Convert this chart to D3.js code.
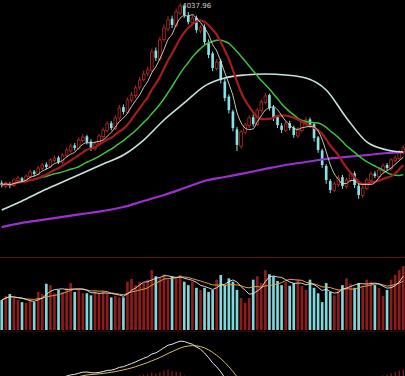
<!DOCTYPE html>
<html>
<head>
<meta charset="utf-8">
<script src="https://cdn.jsdelivr.net/npm/d3@7"></script>
<style>
html, body { margin: 0; padding: 0; background: #000; overflow: hidden; }
</style>
</head>
<body>
<svg id="chart" width="405" height="376"></svg>
<script>
// daily candles
var opens = [3080,3062,3075,3066,3092,3104,3088,3114,3140,3125,
    3158,3178,3166,3200,3215,3190,3226,3250,3280,3262,
    3305,3328,3300,3262,3290,3326,3360,3398,3370,3425,
    3484,3455,3520,3545,3590,3630,3665,3680,3785,3740,
    3845,3900,3955,3918,3985,4020,3970,3935,3960,3890,
    3910,3828,3770,3690,3730,3620,3540,3460,3365,3275,
    3350,3385,3430,3390,3465,3508,3548,3482,3430,3385,
    3360,3398,3375,3330,3358,3400,3418,3392,3322,3252,
    3170,3090,3040,3070,3110,3060,3092,3130,3065,3012,
    3050,3092,3130,3112,3145,3175,3155,3200,3210,3240];
var closes = [3068,3079,3063,3095,3106,3090,3116,3138,3127,3159,
    3175,3164,3202,3212,3191,3228,3255,3276,3266,3308,
    3324,3298,3266,3287,3330,3362,3394,3372,3426,3479,
    3458,3522,3548,3586,3628,3660,3682,3778,3746,3842,
    3906,3948,3922,3991,4023,3975,3938,3959,3895,3906,
    3831,3762,3692,3724,3628,3532,3468,3372,3282,3351,
    3388,3426,3394,3468,3511,3543,3479,3426,3388,3362,
    3394,3372,3335,3362,3404,3415,3388,3319,3255,3175,
    3095,3042,3074,3106,3063,3095,3127,3068,3015,3052,
    3095,3127,3116,3148,3170,3159,3202,3212,3244,3266];
var highs = [3092,3088,3084,3104,3118,3112,3125,3150,3148,3170,
    3186,3190,3212,3225,3224,3238,3268,3290,3292,3322,
    3340,3336,3312,3298,3342,3375,3408,3410,3440,3495,
    3498,3535,3565,3600,3645,3678,3700,3795,3802,3860,
    3925,3968,3972,4010,4037.96,4030,3990,3975,3972,3920,
    3925,3845,3780,3740,3742,3635,3552,3470,3378,3362,
    3400,3440,3445,3480,3525,3560,3556,3495,3440,3398,
    3405,3410,3385,3375,3415,3430,3428,3400,3330,3262,
    3180,3100,3088,3120,3122,3108,3140,3142,3078,3066,
    3106,3140,3142,3160,3182,3186,3212,3226,3255,3280];
var lows = [3055,3050,3052,3058,3082,3080,3078,3105,3115,3118,
    3148,3152,3158,3190,3180,3182,3215,3240,3252,3255,
    3295,3285,3250,3250,3280,3315,3348,3360,3362,3412,
    3445,3448,3508,3532,3578,3620,3650,3672,3730,3732,
    3832,3888,3905,3910,3975,3960,3925,3925,3880,3878,
    3815,3745,3675,3678,3610,3515,3450,3355,3250,3262,
    3338,3372,3380,3382,3452,3498,3465,3410,3372,3345,
    3350,3360,3320,3320,3348,3390,3375,3300,3240,3160,
    3075,3025,3030,3058,3048,3050,3082,3052,2995,3000,
    3040,3080,3105,3100,3135,3148,3145,3190,3200,3230];
var volumes = [2200,2500,2650,2350,2200,2050,2000,2200,2050,2800,
    2650,3400,3300,2700,2950,2800,3100,3450,2800,2950,
    2700,2700,2550,2800,2700,2850,2700,2400,2500,2400,
    2400,3550,3750,3300,3550,3450,3700,4400,3950,3800,
    4100,3700,3950,3800,4050,3550,3300,3550,3100,2950,
    3100,2800,2950,3700,4050,3300,3800,3550,2950,2350,
    2000,2350,3700,3950,3450,4400,4100,3950,3600,3300,
    3550,3250,3450,3700,3250,2950,3700,3100,2700,2050,
    3450,2800,2550,2950,3300,3800,3400,3100,3450,3250,
    3700,3550,3300,3100,2500,2950,3700,4050,4400,4700];

// long averages, sampled every 5 days
var longIdx = [0,5,10,15,20,25,30,35,40,45,50,55,60,65,70,75,80,85,90,95,99];
var ma60 = [2935,2983,3036,3084,3132,3180,3228,3308,3415,3506,3596,3639,3655,3660,3655,3639,3575,3426,3298,3255,3244];
var ma250 = [2844,2866,2882,2898,2914,2930,2951,2983,3015,3052,3090,3111,3132,3154,3175,3191,3207,3218,3228,3239,3244];

var peakLabel = "4037.96";

var W = 405, H = 376;
var svg = d3.select("#chart");
svg.append("rect").attr("width", W).attr("height", H).attr("fill", "#000");

var n = closes.length;
var x = d3.scaleBand().domain(d3.range(n)).range([0, W]).paddingInner(0.35).paddingOuter(0.1);
var cx = function (i) { return x(i) + x.bandwidth() / 2; };

var y = d3.scaleLinear().domain([2695, 4055]).range([255, 0]);
var yVol = d3.scaleLinear().domain([0, 5000]).range([330, 262]);
var yMacd = d3.scaleLinear().domain([0, 200]).range([386, 337]);

function movingAvg(arr, len) {
    return arr.map(function (v, i) {
        return d3.mean(arr.slice(Math.max(0, i - len + 1), i + 1));
    });
}
function ema(arr, len) {
    var k = 2 / (len + 1), out = [];
    arr.forEach(function (v, i) { out.push(i ? out[i - 1] + k * (v - out[i - 1]) : v); });
    return out;
}

var UP = "#b82828", DOWN = "#86e4e6";

// clip regions
var defs = svg.append("defs");
defs.append("clipPath").attr("id", "cpPrice").append("rect").attr("x", 0).attr("y", 0).attr("width", W).attr("height", 256);
defs.append("clipPath").attr("id", "cpMacd").append("rect").attr("x", 0).attr("y", 334).attr("width", W).attr("height", 42);

// separators
svg.append("line").attr("x1", 0).attr("x2", W).attr("y1", 257.5).attr("y2", 257.5)
    .attr("stroke", "#6a1010").attr("stroke-width", 1);
svg.append("line").attr("x1", 0).attr("x2", W).attr("y1", 331.5).attr("y2", 331.5)
    .attr("stroke", "#2a0606").attr("stroke-width", 1);

// ---------- price panel ----------
var gp = svg.append("g").attr("clip-path", "url(#cpPrice)");
var idx = d3.range(n);

var candles = gp.append("g").selectAll("g").data(idx).enter().append("g");
candles.append("line")
    .attr("x1", cx).attr("x2", cx)
    .attr("y1", function (i) { return y(highs[i]); })
    .attr("y2", function (i) { return y(lows[i]); })
    .attr("stroke", function (i) { return closes[i] >= opens[i] ? UP : DOWN; })
    .attr("stroke-width", 1);
candles.append("rect")
    .attr("x", function (i) { return x(i); })
    .attr("width", x.bandwidth())
    .attr("y", function (i) { return y(Math.max(opens[i], closes[i])); })
    .attr("height", function (i) { return Math.max(1, Math.abs(y(opens[i]) - y(closes[i]))); })
    .attr("fill", function (i) { return closes[i] >= opens[i] ? "#000" : DOWN; })
    .attr("stroke", function (i) { return closes[i] >= opens[i] ? UP : "none"; })
    .attr("stroke-width", 0.8);

var ma5 = movingAvg(closes, 5), ma10 = movingAvg(closes, 10), ma20 = movingAvg(closes, 20);

var line = d3.line().x(function (d) { return cx(d[0]); }).y(function (d) { return y(d[1]); }).curve(d3.curveMonotoneX);
function series(vals) { return vals.map(function (v, i) { return [i, v]; }); }
function sampled(vals) { return vals.map(function (v, k) { return [longIdx[k], v]; }); }

gp.append("path").datum(sampled(ma250)).attr("d", line)
    .attr("fill", "none").attr("stroke", "#9b2fd0").attr("stroke-width", 2.2);
gp.append("path").datum(sampled(ma60)).attr("d", line)
    .attr("fill", "none").attr("stroke", "#c9e2e0").attr("stroke-width", 1.6);
gp.append("path").datum(series(ma20)).attr("d", line)
    .attr("fill", "none").attr("stroke", "#3cc23c").attr("stroke-width", 1.5);
gp.append("path").datum(series(ma10)).attr("d", line)
    .attr("fill", "none").attr("stroke", "#a51c1c").attr("stroke-width", 2.2);
gp.append("path").datum(series(ma5)).attr("d", line)
    .attr("fill", "none").attr("stroke", "#e8d8d0").attr("stroke-width", 0.9);

gp.append("text").attr("x", cx(44) + 2).attr("y", 8)
    .attr("fill", "#cfcfcf").attr("font-family", "DejaVu Sans, sans-serif").attr("font-size", 7)
    .text(peakLabel);

// ---------- volume panel ----------
var gv = svg.append("g");
gv.selectAll("rect").data(idx).enter().append("rect")
    .attr("x", function (i) { return x(i); })
    .attr("width", x.bandwidth())
    .attr("y", function (i) { return yVol(volumes[i]); })
    .attr("height", function (i) { return yVol(0) - yVol(volumes[i]); })
    .attr("fill", function (i) { return closes[i] >= opens[i] ? "#8e1c1c" : "#80d8dc"; });

var vline = d3.line().x(function (d) { return cx(d[0]); }).y(function (d) { return yVol(d[1]); });
gv.append("path").datum(series(movingAvg(volumes, 10))).attr("d", vline)
    .attr("fill", "none").attr("stroke", "#e0a040").attr("stroke-width", 1);
gv.append("path").datum(series(movingAvg(volumes, 5))).attr("d", vline)
    .attr("fill", "none").attr("stroke", "#e8e8e8").attr("stroke-width", 0.9);

// ---------- MACD panel ----------
var ema12 = ema(closes, 12), ema26 = ema(closes, 26);
var dif = ema12.map(function (v, i) { return v - ema26[i]; });
var dea = ema(dif, 9);
var hist = dif.map(function (v, i) { return 2 * (v - dea[i]); });

var gm = svg.append("g").attr("clip-path", "url(#cpMacd)");
gm.selectAll("line").data(idx).enter().append("line")
    .attr("x1", cx).attr("x2", cx)
    .attr("y1", yMacd(0))
    .attr("y2", function (i) { return yMacd(hist[i]); })
    .attr("stroke", function (i) { return hist[i] >= 0 ? "#b02020" : "#40c0c0"; })
    .attr("stroke-width", 1);
var mline = d3.line().x(function (d) { return cx(d[0]); }).y(function (d) { return yMacd(d[1]); });
gm.append("path").datum(series(dea)).attr("d", mline)
    .attr("fill", "none").attr("stroke", "#d8c060").attr("stroke-width", 1);
gm.append("path").datum(series(dif)).attr("d", mline)
    .attr("fill", "none").attr("stroke", "#e8e8e8").attr("stroke-width", 1);
</script>
</body>
</html>
